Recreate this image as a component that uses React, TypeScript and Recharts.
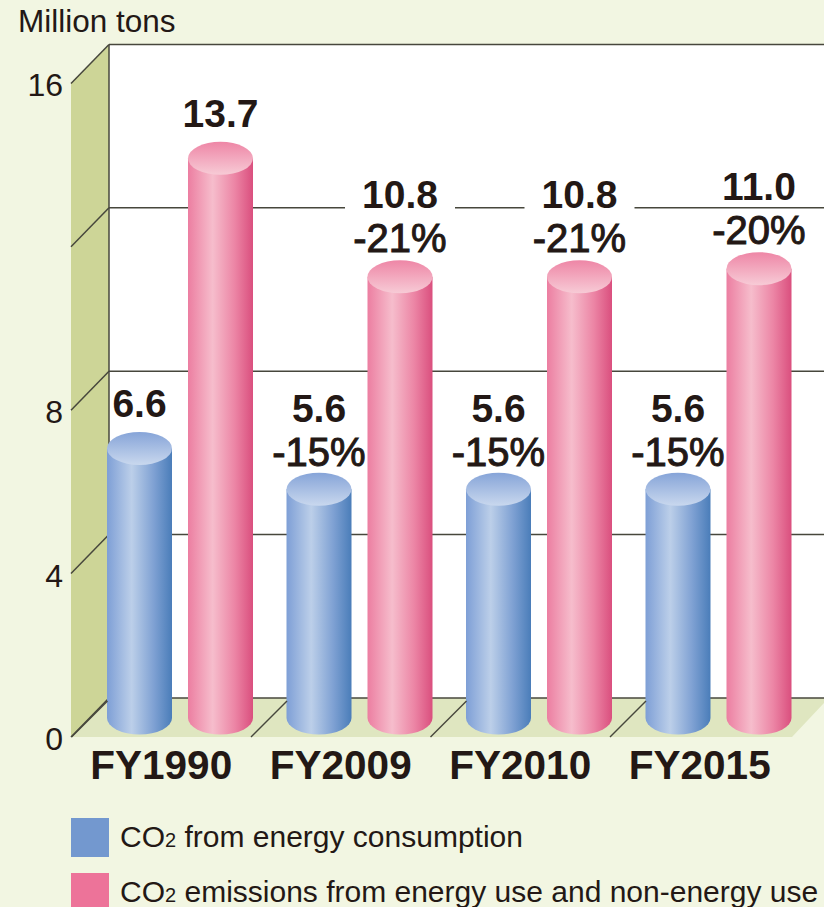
import { Bar, BarChart, CartesianGrid, LabelList, Legend, XAxis, YAxis } from "recharts";

const categories = ["FY1990", "FY2009", "FY2010", "FY2015"];
const energyCo2 = [6.6, 5.6, 5.6, 5.6];
const totalCo2 = [13.7, 10.8, 10.8, 11.0];
const energyChange = ["", "-15%", "-15%", "-15%"];
const totalChange = ["", "-21%", "-21%", "-20%"];
const yTicks = [0, 4, 8, 12, 16];
const yTickLabels = ["0", "4", "8", "", "16"];
const seriesNames = ["CO2 from energy consumption", "CO2 emissions from energy use and non-energy use"];

const chartData = categories.map((fy, i) => ({
  fy,
  energy: energyCo2[i],
  total: totalCo2[i],
}));

const FONT = '"Liberation Sans", Arial, sans-serif';
const INK = "#231815";
const LINE = "#47473c";
const BACKDROP = "#f2f6e2";

// depth of the fake 3D box, relative to the value scale
const BACK_SHIFT = -20;
const FRONT_SHIFT = 19;
const WALL_LEFT = 71;
const WALL_RIGHT = 109;

const Cylinder = (props: any) => {
  const { x, y, width, height, name } = props;
  const key = name === seriesNames[0] ? "blue" : "pink";
  const rx = width / 2;
  const ry = 16.5;
  return (
    <g>
      <path
        d={`M${x},${y} L${x},${y + height} A${rx},${ry} 0 0 0 ${x + width},${y + height} L${x + width},${y} Z`}
        fill={`url(#${key}Side)`}
      />
      <ellipse cx={x + rx} cy={y} rx={rx} ry={ry} fill={`url(#${key}Top)`} />
    </g>
  );
};

const BarLabel = (props: any) => {
  const { x, y, width, value, index, changes, mask } = props;
  const cx = x + width / 2;
  const change = changes[index];
  const numStyle = { fontFamily: FONT, fontSize: 39, fontWeight: 700, fill: INK };
  if (!change) {
    return (
      <text x={cx} y={y - 44} dy={13} textAnchor="middle" {...numStyle}>
        {Number(value).toFixed(1)}
      </text>
    );
  }
  // the taller bars sit a little closer to their labels
  const lift = mask ? 2 : 0.5;
  return (
    <g>
      {mask && <rect x={cx - 55} y={y - 77} width={110} height={14} fill="#fff" />}
      <text x={cx} y={y - 81 - lift} dy={14} textAnchor="middle" {...numStyle}>
        {Number(value).toFixed(1)}
      </text>
      <text
        x={cx}
        y={y - 37 - lift}
        dy={14}
        textAnchor="middle"
        fontFamily={FONT}
        fontSize={40}
        fill={INK}
        stroke={INK}
        strokeWidth={1}
      >
        {change}
      </text>
    </g>
  );
};

// number on the left of the side wall
const ValueTick = (props: any) => {
  const { y, index } = props;
  return (
    <text x={63} y={y + FRONT_SHIFT} dy={13} textAnchor="end" fontFamily={FONT} fontSize={32} fill={INK}>
      {yTickLabels[index]}
    </text>
  );
};

const CategoryTick = (props: any) => {
  const { x, y, payload } = props;
  const edge = x - 89.75;
  return (
    <g>
      <line x1={edge - 18.5} y1={737} x2={edge + 17.5} y2={701} stroke={LINE} strokeWidth={1.5} />
      <text x={x - 18.5} y={y + 61} dy={-8} textAnchor="middle" fontFamily={FONT} fontSize={40.5} fontWeight={700} fill={INK}>
        {payload.value}
      </text>
    </g>
  );
};

// gridline on the back wall plus the slanted edge running down the side wall
const GridLine = (props: any) => {
  const { x2, y1 } = props;
  return (
    <g stroke={LINE} strokeWidth={1.5} fill="none">
      <line x1={WALL_RIGHT} y1={y1 + BACK_SHIFT} x2={x2 + 20} y2={y1 + BACK_SHIFT} />
      <line x1={WALL_LEFT} y1={y1 + FRONT_SHIFT} x2={WALL_RIGHT} y2={y1 + BACK_SHIFT} />
    </g>
  );
};

const LegendRows = (props: any) => {
  const { payload } = props;
  return (
    <div style={{ fontFamily: FONT, color: INK }}>
      {payload.map((entry: any) => {
        const rest = String(entry.value).slice(3);
        return (
          <div key={entry.value} style={{ display: "flex", alignItems: "center", height: 55, whiteSpace: "nowrap" }}>
            <span style={{ width: 38, height: 39, background: entry.color, marginRight: 11, flexShrink: 0 }} />
            <span style={{ fontSize: 30, position: "relative", top: -1 }}>
              CO<span style={{ fontSize: 20 }}>2</span>
              {rest}
            </span>
          </div>
        );
      })}
    </div>
  );
};

// box behind the chart: back wall, side wall and floor
const Box = () => (
  <svg width={824} height={907} style={{ position: "absolute", left: 0, top: 0 }}>
    <rect x={WALL_RIGHT} y={45} width={715} height={653} fill="#fff" />
    <polygon points="71,83 109,45 109,698 71,737" fill="#cdd597" />
    <polygon points="71,737 109,698 824,698 824,703 792,737" fill="#dfe6c0" />
    <line x1={WALL_RIGHT} y1={45} x2={WALL_RIGHT} y2={698} stroke={LINE} strokeWidth={1.5} />
  </svg>
);

export default function App() {
  return (
    <div style={{ position: "absolute", left: 0, top: 0, width: 824, height: 907, background: BACKDROP, overflow: "hidden" }}>
      <Box />
      <div style={{ position: "absolute", left: 18, top: 0, fontFamily: FONT, fontSize: 31.5, color: INK, lineHeight: "42px" }}>
        Million tons
      </div>
      <BarChart
        width={824}
        height={907}
        data={chartData}
        margin={{ top: 64.4, right: 16, bottom: 129, left: 0 }}
        barSize={65}
        barGap={16}
      >
        <defs>
          <linearGradient id="blueSide" x1="0" y1="0" x2="1" y2="0">
            <stop offset="0%" stopColor="#7e9fd6" />
            <stop offset="38%" stopColor="#bccfe9" />
            <stop offset="72%" stopColor="#7fa1d3" />
            <stop offset="100%" stopColor="#4a7db9" />
          </linearGradient>
          <linearGradient id="blueTop" x1="0" y1="0" x2="0" y2="1">
            <stop offset="0%" stopColor="#86a4d8" />
            <stop offset="100%" stopColor="#c9d8ee" />
          </linearGradient>
          <linearGradient id="pinkSide" x1="0" y1="0" x2="1" y2="0">
            <stop offset="0%" stopColor="#ec7ea1" />
            <stop offset="38%" stopColor="#f6bdcc" />
            <stop offset="72%" stopColor="#ec85a5" />
            <stop offset="100%" stopColor="#da4f7e" />
          </linearGradient>
          <linearGradient id="pinkTop" x1="0" y1="0" x2="0" y2="1">
            <stop offset="0%" stopColor="#ee86a6" />
            <stop offset="100%" stopColor="#f7cbd6" />
          </linearGradient>
        </defs>
        <CartesianGrid vertical={false} syncWithTicks horizontal={(p: any) => <GridLine key={p.key} {...p} />} />
        <XAxis
          dataKey="fy"
          axisLine={false}
          tickLine={false}
          height={60}
          interval={0}
          tick={<CategoryTick />}
        />
        <YAxis
          domain={[0, 16]}
          ticks={yTicks}
          width={90}
          axisLine={false}
          tickLine={false}
          interval={0}
          tick={<ValueTick />}
        />
        <Legend
          layout="horizontal"
          verticalAlign="middle"
          align="center"
          itemSorter="dataKey"
          wrapperStyle={{ left: 71, top: 810, width: 753 }}
          content={<LegendRows />}
        />
        <Bar dataKey="energy" name={seriesNames[0]} fill="#7398cf" shape={<Cylinder />} isAnimationActive={false}>
          <LabelList dataKey="energy" content={<BarLabel changes={energyChange} />} />
        </Bar>
        <Bar dataKey="total" name={seriesNames[1]} fill="#ed7399" shape={<Cylinder />} isAnimationActive={false}>
          <LabelList dataKey="total" content={<BarLabel changes={totalChange} mask />} />
        </Bar>
      </BarChart>
    </div>
  );
}
